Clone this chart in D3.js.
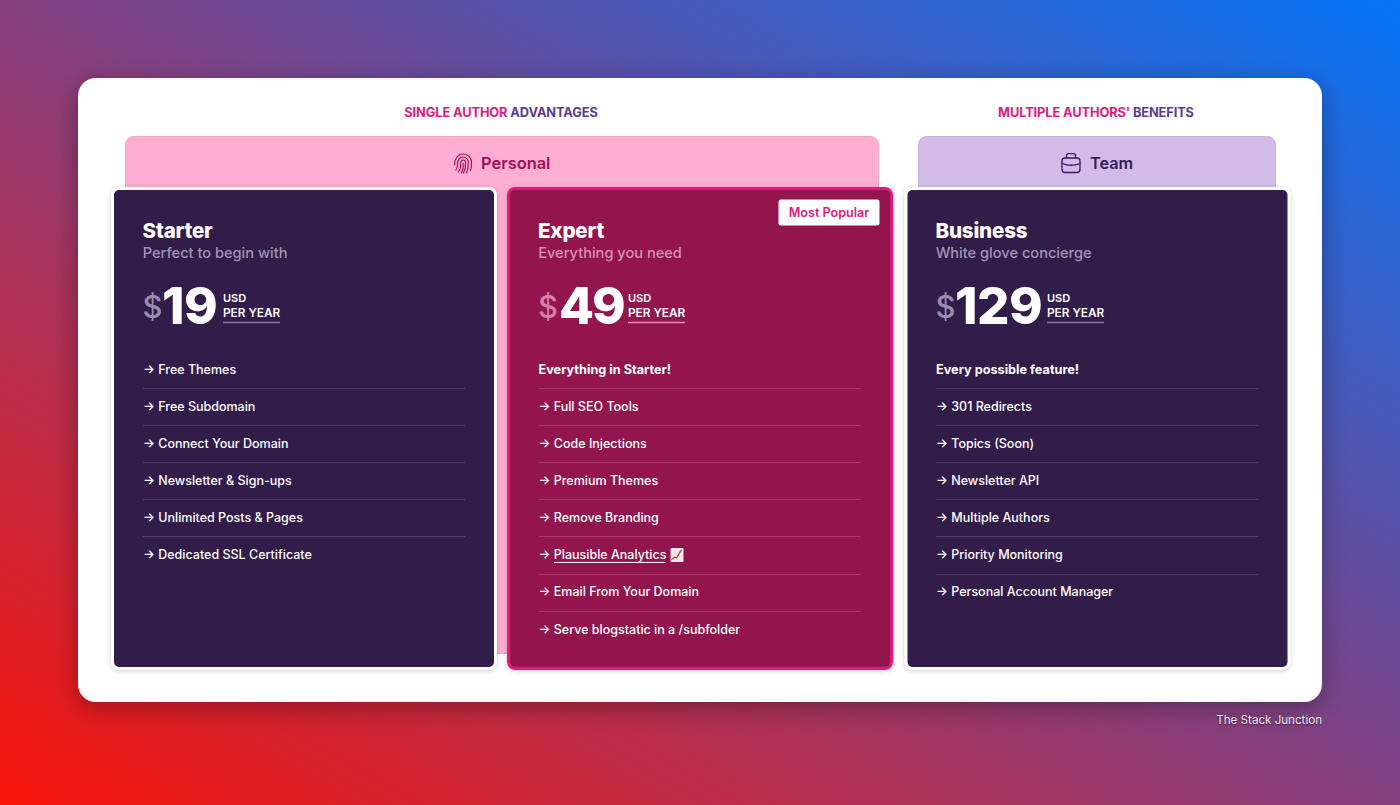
<!DOCTYPE html>
<html><head><meta charset="utf-8">
<script src="https://cdn.jsdelivr.net/npm/d3@7"></script>
<style>
html,body{margin:0;padding:0;width:1400px;height:805px;overflow:hidden;background:linear-gradient(to top right,#f9140a 0%,#84407f 50%,#0474f8 100%)}
svg{display:block;font-family:Inter,"Noto Sans",sans-serif}
</style></head><body><svg id="c" width="1400" height="805"></svg>
<script>
const planNames=["Starter","Expert","Business"];
const planSubs=["Perfect to begin with","Everything you need","White glove concierge"];
const planPrices=["19","49","129"];
const starterRows=["→ Free Themes","→ Free Subdomain","→ Connect Your Domain","→ Newsletter & Sign-ups","→ Unlimited Posts & Pages","→ Dedicated SSL Certificate"];
const expertRows=["Everything in Starter!","→ Full SEO Tools","→ Code Injections","→ Premium Themes","→ Remove Branding","→ Plausible Analytics","→ Email From Your Domain","→ Serve blogstatic in a /subfolder"];
const businessRows=["Every possible feature!","→ 301 Redirects","→ Topics (Soon)","→ Newsletter API","→ Multiple Authors","→ Priority Monitoring","→ Personal Account Manager"];
const planRows=[starterRows,expertRows,businessRows];
const groupHeads=[["SINGLE AUTHOR ","ADVANTAGES"],["MULTIPLE AUTHORS' ","BENEFITS"]];
const groupNames=["Personal","Team"];

const svg=d3.select("#c");
const defs=svg.append("defs");
const blur=(id,dy,sd,op)=>defs.append("filter").attr("id",id).attr("x","-20%").attr("y","-20%").attr("width","140%").attr("height","140%")
  .append("feDropShadow").attr("dx",0).attr("dy",dy).attr("stdDeviation",sd).attr("flood-color","#000").attr("flood-opacity",op);
blur("sOuter",6,12,0.32);blur("sCard",1,2.5,0.2);

const tx=d3.scaleOrdinal().domain(planNames).range([143,538.5,936]);
const cardX=d3.scaleOrdinal().domain(planNames).range([111,507,904.5]);
const rowY=d3.scaleLinear().domain([0,7]).range([369.3,629.2]);

svg.append("rect").attr("x",78).attr("y",78).attr("width",1244).attr("height",624).attr("rx",18).attr("fill","#fff").attr("filter","url(#sOuter)");

// group heads
const headX=[501,1096];
groupHeads.forEach((h,i)=>{
  const t=svg.append("text").attr("x",headX[i]).attr("y",117).attr("text-anchor","middle").attr("font-size",12.8).attr("font-weight",700).attr("letter-spacing",-0.1);
  t.append("tspan").attr("fill","#df1a80").text(h[0]);
  t.append("tspan").attr("fill","#5d3a8e").text(h[1]);
});

// tabs
svg.append("rect").attr("x",125.5).attr("y",136.5).attr("width",753).attr("height",517).attr("rx",8).attr("fill","#ffaed3").attr("stroke","#f6a6cb").attr("stroke-width",1);
svg.append("rect").attr("x",918.5).attr("y",136.5).attr("width",357).attr("height",70).attr("rx",8).attr("fill","#d2bbe8").attr("stroke","#c9b3e1").attr("stroke-width",1);
svg.append("text").attr("x",481).attr("y",168.5).attr("font-size",16.4).attr("font-weight",600).attr("fill","#a30c5a").text(groupNames[0]);
svg.append("text").attr("x",1090).attr("y",168.5).attr("font-size",16.3).attr("font-weight",600).attr("fill","#36195f").text(groupNames[1]);

// fingerprint icon
const fp=svg.append("g").attr("fill","none").attr("stroke","#a30c5a").attr("stroke-width",1.2).attr("stroke-linecap","round");
["M454.500 165c-.2-6 3.500-11 8.500-11 5 0 8.500 3.700 8.500 8.500 0 3-.3 5.500-1 8",
 "M456 170c1.200-1.500 1.700-3.500 1.600-6.500-.2-3.500 2.400-6.500 5.400-6.500 3 0 5.300 2.500 5.300 5.500 0 4-.5 7-1.700 10.500",
 "M458.500 172c1.700-2.300 2.300-5 2.200-8.500-.1-1.700 1-3.500 2.500-3.500 1.500 0 2.400 1.300 2.400 3 0 4-.7 7-2 10",
 "M461.500 173c1.300-2.500 2-5.500 1.800-9.500"].forEach(d=>fp.append("path").attr("d",d));
// briefcase icon
const bc=svg.append("g").attr("fill","none").attr("stroke","#36195f").attr("stroke-width",1.3).attr("stroke-linejoin","round").attr("stroke-linecap","round");
bc.append("rect").attr("x",1062).attr("y",158).attr("width",18).attr("height",14.500).attr("rx",3);
bc.append("path").attr("d","M1066.500 158v-2.500a1.800 1.800 0 0 1 1.800-1.800h5.400a1.800 1.800 0 0 1 1.800 1.800V158");
bc.append("path").attr("d","M1062 163.500c5.500 2.200 12.500 2.200 18 0");
bc.append("path").attr("d","M1071 164.800v.4");

// cards
const fills=["#311b49","#92154d","#311b49"], strokes=["#fff","#e5187c","#fff"];
const subCol=["#a294b4","#d98fb5","#a294b4"], dollarCol=["#9a8bb0","#d67fab","#9a8bb0"];
const divCol=["#52406a","#ab3b6e","#52406a"], ulCol=["#8a76a8","#e48fb8","#8a76a8"];
const numX=[[162,223],[559,628],[955,1047]];
const numTrack=[-0.5,-2,-0.5];
planNames.forEach((n,i)=>{
  const x0=cardX(n),tx0=tx(n),g=svg.append("g");
  g.append("rect").attr("x",x0+1.500).attr("y",188.500).attr("width",383).attr("height",480).attr("rx",6.500)
    .attr("fill",fills[i]).attr("stroke",strokes[i]).attr("stroke-width",3).attr("filter","url(#sCard)");
  g.append("text").attr("x",tx0-0.5).attr("y",237.500).attr("font-size",20.600).attr("font-weight",800).attr("fill","#fff").attr("letter-spacing",-0.2).text(n);
  g.append("text").attr("x",tx0-0.3).attr("y",258).attr("font-size",14.600).attr("font-weight",500).attr("fill",subCol[i]).text(planSubs[i]);
  g.append("text").attr("x",tx0-0.5).attr("y",318).attr("font-size",31).attr("font-weight",500).attr("fill",dollarCol[i]).text("$");
  g.append("text").attr("x",numX[i][0]).attr("y",324).attr("font-size",51).attr("font-weight",800).attr("letter-spacing",numTrack[i]).attr("fill","#fff").text(planPrices[i]);
  g.append("text").attr("x",numX[i][1]).attr("y",302).attr("font-size",11).attr("font-weight",600).attr("fill","#fff").text("USD");
  g.append("text").attr("x",numX[i][1]).attr("y",316.500).attr("font-size",11.800).attr("font-weight",600).attr("fill","#fff").text("PER YEAR");
  g.append("line").attr("x1",numX[i][1]).attr("x2",numX[i][1]+57).attr("y1",322.500).attr("y2",322.500).attr("stroke",ulCol[i]).attr("stroke-width",1.500);
  const rows=planRows[i];
  g.selectAll(".d").data(rows.slice(0,-1)).join("line").attr("x1",tx0).attr("x2",tx0+322)
    .attr("y1",(d,k)=>Math.round(rowY(k+0.5))+0.5).attr("y2",(d,k)=>Math.round(rowY(k+0.5))+0.5).attr("stroke",divCol[i]);
  g.selectAll(".r").data(rows).join("text").attr("x",tx0).attr("y",(d,k)=>rowY(k)+4.300)
    .attr("font-size",d=>d.startsWith("→")?12.500:12.700)
    .attr("font-weight",d=>d.startsWith("→")?450:700).attr("fill","#fff").attr("xml:space","preserve").text(d=>d);
});
// underline + emoji on Plausible row
const py=rowY(5);
svg.append("line").attr("x1",554).attr("x2",665.500).attr("y1",py+7.5).attr("y2",py+7.5).attr("stroke","#fff").attr("stroke-width",1);
const em=svg.append("g");
em.append("rect").attr("x",670.500).attr("y",py-7).attr("width",13).attr("height",14).attr("rx",1).attr("fill","#efe6ea");
em.append("path").attr("d",`M671.500 ${py+5}l3-3 2 1 3-5 2-3`).attr("fill","none").attr("stroke","#b5443c").attr("stroke-width",1.200);

// badge
svg.append("rect").attr("x",778.500).attr("y",199.500).attr("width",101).attr("height",26).attr("rx",2.500).attr("fill","#fff");
svg.append("text").attr("x",829).attr("y",217.300).attr("text-anchor","middle").attr("font-size",12.600).attr("font-weight",600).attr("fill","#d91b7b").text("Most Popular");

// credit
svg.append("text").attr("x",1322).attr("y",724).attr("text-anchor","end").attr("font-size",11.600).attr("fill","#f6e6f2").style("text-shadow","0 1px 2px rgba(0,0,0,.6)").text("The Stack Junction");
</script></body></html>
